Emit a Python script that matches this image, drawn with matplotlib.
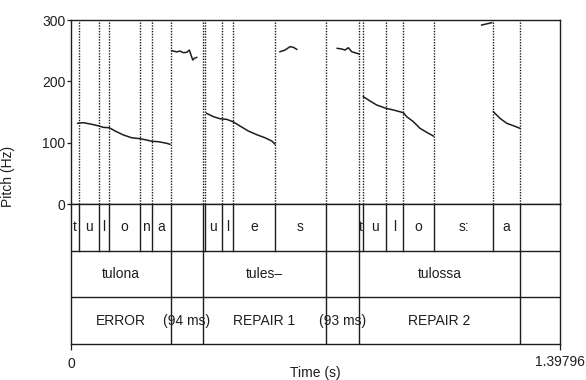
import matplotlib.pyplot as plt

plt.rcParams['font.family'] = ['Liberation Sans', 'DejaVu Sans']

DUR = 1.39796

# segment tier (phones)
phone_bounds = [0, 0.0237, 0.080, 0.1095, 0.197, 0.2316, 0.2859, 0.3765, 0.3822,
                0.4325, 0.4631, 0.5832, 0.7281, 0.8233, 0.8356, 0.9005, 0.950,
                1.0369, 1.2073, 1.2836, DUR]
phone_labels = ['t', 'u', 'l', 'o', 'n', 'a', '', '', 'u', 'l', 'e', 's', '',
                't', 'u', 'l', 'o', 's:', 'a', '']

# word tier
word_bounds = [0, 0.2859, 0.3765, 0.7281, 0.8233, 1.2836, DUR]
word_labels = ['tulona', '', 'tules\u2013', '', 'tulossa', '']

# error/repair tier
part_labels = ['ERROR', '(94 ms)', 'REPAIR 1', '(93 ms)', 'REPAIR 2', '']

# pitch track, one list per voiced stretch (s, Hz)
pitch_t = [
    [0.019, 0.035, 0.059, 0.080, 0.092, 0.1095, 0.126, 0.150, 0.1735, 0.197,
     0.2165, 0.2316, 0.2495, 0.2735, 0.283],
    [0.288, 0.302, 0.3116, 0.321, 0.331, 0.3384, 0.348, 0.3525, 0.3593],
    [0.388, 0.407, 0.426, 0.445, 0.463, 0.483, 0.507, 0.531, 0.5547, 0.574, 0.583],
    [0.5975, 0.6118, 0.626, 0.6356, 0.6453],
    [0.761, 0.774, 0.783, 0.793, 0.8025, 0.817, 0.824],
    [0.8356, 0.8548, 0.874, 0.9005, 0.9216, 0.950, 0.9597, 0.9787, 0.9977,
     1.0168, 1.0358],
    [1.174, 1.2027],
    [1.2073, 1.2264, 1.2456, 1.2645, 1.2836],
]
pitch_hz = [
    [131.6, 132.6, 130, 127.2, 125, 124.4, 119, 112.5, 108, 106.5, 104.3, 102.2,
     101.6, 99, 97.3],
    [250, 248, 249.4, 246.7, 247.3, 251, 234.8, 237.5, 239],
    [147.8, 142.4, 139, 138, 134.2, 127.2, 119, 113, 108, 102.7, 97.8],
    [248.3, 251, 256.5, 255.5, 252.2],
    [253.8, 252.7, 251, 254.8, 248.3, 245.7, 244.6],
    [175, 168, 161.4, 156, 153.3, 148.9, 142.4, 134.2, 123.4, 116.9, 110.9],
    [291.8, 295.6],
    [150.5, 139.7, 131.6, 127.7, 123.4],
]

INK = '#1e1e1e'
FS = 10
W, H = 586, 380
fig = plt.figure(figsize=(W / 100, H / 100), dpi=100)

def px_box(x0, y0, x1, y1):
    # pixel box (top-left origin) -> figure fraction rect
    return [x0 / W, 1 - y1 / H, (x1 - x0) / W, (y1 - y0) / H]

# pitch panel
ax = fig.add_axes(px_box(71, 20, 560, 204))
for tr, hz in zip(pitch_t, pitch_hz):
    ax.plot(tr, hz, color=INK, lw=1.1)
for b in phone_bounds[1:-1]:
    ax.axvline(b, color=INK, lw=1.0, ls=(0, (1, 1)))
ax.set_xlim(0, DUR)
ax.set_ylim(0, 300)
ax.set_yticks([0, 100, 200, 300])
ax.set_xticks([])
ax.tick_params(axis='y', length=3, width=0.9, pad=1, labelsize=FS, colors=INK)
for s in ax.spines.values():
    s.set_color(INK)
    s.set_linewidth(1.0)

# annotation tiers
tx = fig.add_axes(px_box(71, 204, 560, 344))
tx.set_xlim(0, DUR)
tx.set_ylim(0, 3)
tx.set_yticks([])
tx.set_xticks([0, DUR])
tx.set_xticklabels(['0', '1.39796'])
tx.tick_params(axis='x', length=4, width=0.9, pad=5, labelsize=FS, colors=INK)
tx.get_xticklabels()[1].set_y(0.012)
for s in tx.spines.values():
    s.set_color(INK)
    s.set_linewidth(1.0)
for yy in (1, 2):
    tx.axhline(yy, color=INK, lw=1.0)

def draw_tier(bounds, labels, y0):
    for b in bounds[1:-1]:
        tx.plot([b, b], [y0, y0 + 1], color=INK, lw=1.0)
    for a, b, lab in zip(bounds[:-1], bounds[1:], labels):
        if lab:
            tx.text((a + b) / 2, y0 + 0.5, lab, ha='center', va='center',
                    fontsize=FS, color=INK)

draw_tier(phone_bounds, phone_labels, 2)
draw_tier(word_bounds, word_labels, 1)
draw_tier(word_bounds, part_labels, 0)

fig.text(8 / W, 1 - 176 / H, 'Pitch (Hz)', rotation=90, ha='center', va='center',
         fontsize=FS, color=INK)
fig.text(315 / W, 1 - 373 / H, 'Time (s)', ha='center', va='center',
         fontsize=FS, color=INK)

fig.savefig('out.png', dpi=100, facecolor='white')
